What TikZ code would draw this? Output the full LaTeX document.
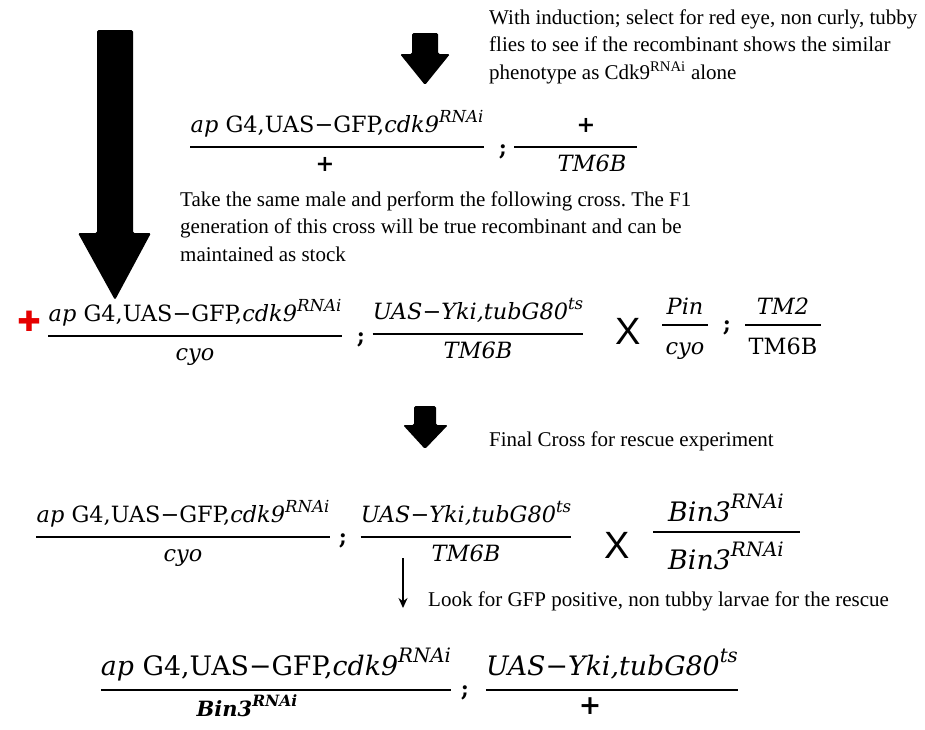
\documentclass[tikz,border=0pt]{standalone}
\usepackage{fontspec}
\setmainfont{Liberation Serif}
\newfontfamily\eqfont{DejaVu Serif}
\newfontfamily\crossfont{Liberation Sans}
\newfontfamily\symfont{DejaVu Sans}
\usetikzlibrary{%
  arrows.meta
}
\frenchspacing

\newcommand{\up}[1]{\raisebox{0.48em}{\scalebox{0.74}{#1}}}
\newcommand{\apline}{\textit{ap} G4,UAS−GFP,\textit{cdk9}\up{\textit{RNAi}}}
\newcommand{\ykiline}{\textit{UAS−Yki,tubG80}\up{\textit{ts}}}

\tikzset{
  num/.style={font=\eqfont\fontsize{22.4}{24}\selectfont, anchor=south,
    inner sep=0pt, text depth=14pt},
  den/.style={font=\eqfont\fontsize{22.4}{24}\selectfont, anchor=north,
    inner sep=0pt, text height=24pt},
  big/.style={font=\eqfont\fontsize{26.8}{28}\selectfont},
  bar/.style={line width=2.8pt},
  semi/.style={font=\eqfont\bfseries\fontsize{22}{22}\selectfont, inner sep=0pt},
  times/.style={font=\crossfont\fontsize{38}{38}\selectfont, inner sep=0pt},
  note/.style={font=\fontsize{21}{27.5}\selectfont, anchor=base west,
    align=left, inner sep=0pt},
  block/.style={fill=black, rounded corners=1.5pt}
}

\begin{document}
\begin{tikzpicture}[x=1pt,y=-1pt]
  \useasboundingbox (0,0) rectangle (925,729);

  \fill[block] (97,30) -- (133,30) -- (133,233) -- (151,233) -- (115,300)
    -- (78,233) -- (97,233) -- cycle;
  \fill[block] (412,33) -- (438,33) -- (438,54) -- (450,54) -- (425,85)
    -- (400,54) -- (412,54) -- cycle;
  \fill[block] (414,406) -- (436,406) -- (436,425) -- (448,425) -- (425,449)
    -- (403,425) -- (414,425) -- cycle;

  \node[note] (induction) at (489,79) {With induction; select for red eye, non curly, tubby\\
    flies to see if the recombinant shows the similar\\
    phenotype as Cdk9\textsuperscript{RNAi} alone};

  \node[num] (cross1top) at (337,147) {\apline};
  \draw[bar] (cross1top.south west) -- (cross1top.south east);
  \node[den] (cross1bot) at (325,147) {\textbf{+}};
  \node[semi] (semi1) at (503,152) {;};
  \draw[bar] (514,147) -- (637,147);
  \node[num] (tm1top) at (586,147) {\textbf{+}};
  \node[den] (tm1bot) at (592,147) {\textit{TM6B}};

  \node[note] (same) at (180,261) {Take the same male and perform the following cross. The F1\\
    generation of this cross will be true recombinant and can be\\
    maintained as stock};

  \node[text=red!90!black, font=\symfont\fontsize{28}{28}\selectfont, inner sep=0pt]
    (redeye) at (29,321) {✚};
  \node[num] (pair1top) at (195,336) {\apline};
  \draw[bar] (pair1top.south west) -- (pair1top.south east);
  \node[den] (pair1bot) at (195,336) {\textit{cyo}};
  \node[semi] (semi2) at (361,340) {;};
  \node[num] (pair2top) at (478,334) {\ykiline};
  \draw[bar] (pair2top.south west) -- (pair2top.south east);
  \node[den] (pair2bot) at (478,334) {\textit{TM6B}};
  \node[times] (x1) at (628,331) {X};
  \draw[bar] (662,325) -- (708,325);
  \node[num, text depth=10pt] (pintop) at (685,325) {\textit{Pin}};
  \node[den, text height=29pt] (pinbot) at (685,325) {\textit{cyo}};
  \node[semi] (semi3) at (727,328) {;};
  \draw[bar] (745,325) -- (821,325);
  \node[num, text depth=10pt] (tm2top) at (783,325) {\textit{TM2}};
  \node[den, text height=29pt] (tm2bot) at (783,325) {TM6B};

  \node[note] (final) at (489,446) {Final Cross for rescue experiment};

  \node[num] (final1top) at (183,537) {\apline};
  \draw[bar] (final1top.south west) -- (final1top.south east);
  \node[den] (final1bot) at (183,537) {\textit{cyo}};
  \node[semi] (semi4) at (343,541) {;};
  \node[num] (final2top) at (466,537) {\ykiline};
  \draw[bar] (final2top.south west) -- (final2top.south east);
  \node[den] (final2bot) at (466,537) {\textit{TM6B}};
  \node[times] (x2) at (617,545) {X};
  \draw[bar] (653,532) -- (800,532);
  \node[num, big, text depth=10pt] (bin1top) at (726,532) {\textit{Bin3}\up{\textit{RNAi}}};
  \node[den, big, text height=37pt] (bin1bot) at (726,532) {\textit{Bin3}\up{\textit{RNAi}}};

  \coordinate (lookfrom) at (403,558);
  \coordinate (lookto) at (403,608);
  \draw[-{Stealth[length=10pt,width=9pt]}, line width=1.3pt] (lookfrom) -- (lookto);
  \node[note] (look) at (428,606) {Look for GFP positive, non tubby larvae for the rescue};

  \node[num, big] (resc1top) at (276,690) {\apline};
  \draw[bar] (resc1top.south west) -- (resc1top.south east);
  \node[den, font=\eqfont\bfseries\fontsize{21}{22}\selectfont, text height=26pt]
    (resc1bot) at (247,690) {\textit{Bin3}\up{\textit{RNAi}}};
  \node[semi] (semi5) at (465,693) {;};
  \node[num, big] (resc2top) at (612,690) {\ykiline};
  \draw[bar] (resc2top.south west) -- (resc2top.south east);
  \node[den, big] (resc2bot) at (590,690) {\textbf{+}};
\end{tikzpicture}
\end{document}
